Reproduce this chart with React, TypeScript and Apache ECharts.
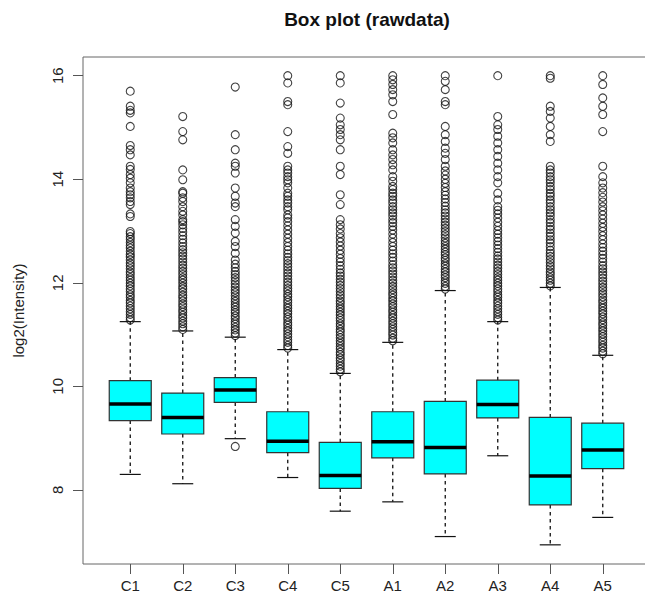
import React, { useEffect, useRef } from "react";
import * as echarts from "echarts";

const categories = ["C1", "C2", "C3", "C4", "C5", "A1", "A2", "A3", "A4", "A5"];
const lowerWhisker = [8.3, 8.12, 8.99, 8.24, 7.59, 7.77, 7.1, 8.66, 6.94, 7.47];
const q1 = [9.34, 9.08, 9.69, 8.72, 8.03, 8.62, 8.31, 9.39, 7.71, 8.41];
const medians = [9.66, 9.4, 9.93, 8.94, 8.28, 8.93, 8.82, 9.65, 8.27, 8.77];
const q3 = [10.11, 9.87, 10.17, 9.51, 8.92, 9.51, 9.71, 10.12, 9.4, 9.29];
const upperWhisker = [11.25, 11.07, 10.95, 10.71, 10.25, 10.85, 11.85, 11.25, 11.91, 10.6];
const yTicks = [8, 10, 12, 14, 16];

const outliersC1 = [11.28, 11.33, 11.39, 11.44, 11.5, 11.55, 11.61, 11.66, 11.72, 11.77, 11.83, 11.88, 11.94, 11.99, 12.05, 12.1, 12.16, 12.21, 12.27, 12.33, 12.38, 12.44, 12.5, 12.55, 12.61, 12.67, 12.72, 12.78, 12.84, 12.89, 12.95, 12.99, 13.28, 13.33, 13.51, 13.57, 13.64, 13.7, 13.76, 13.83, 13.93, 14.02, 14.09, 14.19, 14.25, 14.47, 14.57, 14.65, 15.02, 15.28, 15.33, 15.41, 15.7];
const outliersC2 = [11.1, 11.15, 11.21, 11.26, 11.32, 11.37, 11.43, 11.48, 11.54, 11.59, 11.65, 11.71, 11.76, 11.82, 11.88, 11.93, 11.99, 12.05, 12.1, 12.16, 12.22, 12.28, 12.34, 12.4, 12.46, 12.52, 12.58, 12.64, 12.7, 12.77, 12.84, 12.91, 12.98, 13.05, 13.12, 13.18, 13.22, 13.31, 13.38, 13.47, 13.57, 13.64, 13.73, 13.76, 13.99, 14.18, 14.76, 14.92, 15.21];
const outliersC3 = [8.84, 10.98, 11.03, 11.09, 11.14, 11.2, 11.25, 11.31, 11.36, 11.42, 11.47, 11.53, 11.58, 11.64, 11.69, 11.75, 11.81, 11.86, 11.92, 11.98, 12.04, 12.1, 12.16, 12.22, 12.29, 12.36, 12.44, 12.57, 12.7, 12.8, 12.96, 13.09, 13.22, 13.47, 13.54, 13.67, 13.83, 14.12, 14.25, 14.31, 14.57, 14.86, 15.78];
const outliersC4 = [10.74, 10.79, 10.85, 10.9, 10.96, 11.01, 11.07, 11.12, 11.18, 11.23, 11.29, 11.34, 11.4, 11.45, 11.51, 11.56, 11.62, 11.67, 11.73, 11.78, 11.84, 11.89, 11.95, 12.01, 12.07, 12.13, 12.19, 12.25, 12.31, 12.37, 12.43, 12.49, 12.56, 12.63, 12.7, 12.78, 12.86, 12.94, 13.02, 13.1, 13.18, 13.25, 13.31, 13.41, 13.47, 13.54, 13.6, 13.67, 13.73, 13.83, 13.93, 13.99, 14.05, 14.12, 14.18, 14.25, 14.5, 14.63, 14.92, 15.44, 15.5, 15.86, 16.0];
const outliersC5 = [10.28, 10.33, 10.39, 10.44, 10.5, 10.55, 10.61, 10.66, 10.72, 10.77, 10.83, 10.88, 10.94, 10.99, 11.05, 11.1, 11.16, 11.21, 11.27, 11.32, 11.38, 11.43, 11.49, 11.54, 11.6, 11.65, 11.71, 11.77, 11.83, 11.89, 11.95, 12.01, 12.07, 12.13, 12.19, 12.26, 12.33, 12.4, 12.47, 12.55, 12.63, 12.71, 12.79, 12.87, 12.95, 13.04, 13.12, 13.22, 13.51, 13.7, 14.09, 14.25, 14.57, 14.76, 14.86, 14.96, 15.05, 15.18, 15.47, 15.86, 16.0];
const outliersA1 = [10.88, 10.93, 10.99, 11.04, 11.1, 11.15, 11.21, 11.26, 11.32, 11.37, 11.43, 11.48, 11.54, 11.59, 11.65, 11.7, 11.76, 11.81, 11.87, 11.93, 11.99, 12.05, 12.11, 12.17, 12.23, 12.29, 12.35, 12.42, 12.49, 12.56, 12.63, 12.7, 12.78, 12.86, 12.94, 13.02, 13.09, 13.16, 13.22, 13.29, 13.35, 13.41, 13.47, 13.54, 13.6, 13.67, 13.73, 13.8, 13.86, 13.96, 14.05, 14.18, 14.28, 14.38, 14.47, 14.57, 14.7, 14.8, 14.89, 15.25, 15.5, 15.63, 15.73, 15.83, 15.92, 16.0];
const outliersA2 = [11.88, 11.93, 11.99, 12.04, 12.1, 12.15, 12.21, 12.26, 12.32, 12.37, 12.43, 12.48, 12.54, 12.59, 12.65, 12.7, 12.76, 12.81, 12.87, 12.93, 12.99, 13.05, 13.11, 13.17, 13.23, 13.29, 13.35, 13.41, 13.48, 13.55, 13.62, 13.69, 13.76, 13.84, 13.92, 14.0, 14.08, 14.16, 14.25, 14.38, 14.5, 14.6, 14.73, 14.86, 15.02, 15.44, 15.5, 15.73, 15.89, 16.0];
const outliersA3 = [11.28, 11.33, 11.39, 11.44, 11.5, 11.55, 11.61, 11.66, 11.72, 11.77, 11.83, 11.88, 11.94, 11.99, 12.05, 12.1, 12.16, 12.22, 12.28, 12.34, 12.4, 12.46, 12.52, 12.59, 12.66, 12.73, 12.8, 12.87, 12.94, 13.01, 13.09, 13.17, 13.25, 13.33, 13.4, 13.47, 13.6, 13.73, 13.93, 14.05, 14.18, 14.31, 14.44, 14.57, 14.7, 14.83, 14.96, 15.05, 15.21, 16.0];
const outliersA4 = [11.94, 11.99, 12.05, 12.1, 12.16, 12.21, 12.27, 12.33, 12.39, 12.45, 12.51, 12.57, 12.63, 12.7, 12.77, 12.83, 12.9, 12.96, 13.03, 13.09, 13.16, 13.22, 13.29, 13.35, 13.41, 13.47, 13.54, 13.6, 13.67, 13.73, 13.8, 13.86, 13.93, 13.99, 14.05, 14.12, 14.18, 14.25, 14.73, 14.86, 15.02, 15.18, 15.31, 15.41, 15.95, 16.0];
const outliersA5 = [10.63, 10.68, 10.74, 10.79, 10.85, 10.9, 10.96, 11.01, 11.07, 11.12, 11.18, 11.23, 11.29, 11.34, 11.4, 11.45, 11.51, 11.56, 11.62, 11.67, 11.73, 11.79, 11.85, 11.91, 11.97, 12.03, 12.09, 12.15, 12.21, 12.27, 12.33, 12.4, 12.47, 12.54, 12.61, 12.68, 12.75, 12.83, 12.91, 12.99, 13.07, 13.15, 13.23, 13.31, 13.39, 13.47, 13.56, 13.65, 13.74, 13.83, 13.93, 14.05, 14.25, 14.92, 15.25, 15.41, 15.57, 15.83, 16.0];

const outliers = [outliersC1, outliersC2, outliersC3, outliersC4, outliersC5, outliersA1, outliersA2, outliersA3, outliersA4, outliersA5];

const FONT = "'Liberation Sans', Arial, sans-serif";

export default function App() {
  const ref = useRef<HTMLDivElement>(null);
  useEffect(() => {
    if (!ref.current) return;
    const chart = echarts.init(ref.current, null, { renderer: "svg" });
    const positions = categories.map((_, i) => i + 1);
    const boxData = categories.map((_, i) => [i + 1, lowerWhisker[i], q1[i], medians[i], q3[i], upperWhisker[i]]);
    const outlierData: number[][] = [];
    outliers.forEach((arr, i) => arr.forEach((v) => outlierData.push([i + 1, v])));

    chart.setOption({
      animation: false,
      backgroundColor: "#fff",
      textStyle: { fontFamily: FONT },
      title: {
        text: "Box plot (rawdata)",
        left: 367,
        top: 10,
        padding: 0,
        textAlign: "center",
        textStyle: { fontSize: 19, fontWeight: "bold", color: "#111", fontFamily: FONT },
      },
      grid: {
        left: 83,
        top: 57,
        right: -5,
        bottom: 41,
        show: true,
        borderColor: "#666",
        borderWidth: 1,
        backgroundColor: "transparent",
        outerBoundsMode: "none",
      },
      xAxis: {
        type: "value",
        min: 0.1,
        max: 10.9,
        axisLine: { show: false },
        splitLine: { show: false },
        axisTick: { show: true, customValues: positions, length: 10, lineStyle: { color: "#555" } },
        axisLabel: {
          customValues: positions,
          formatter: (v: number) => categories[Math.round(v) - 1] ?? "",
          fontSize: 15,
          color: "#222",
          margin: 14,
          fontFamily: FONT,
        },
      },
      yAxis: {
        type: "value",
        min: 6.57,
        max: 16.36,
        axisLine: { show: false },
        splitLine: { show: false },
        axisTick: { show: true, customValues: yTicks, length: 10, lineStyle: { color: "#555" } },
        axisLabel: { customValues: yTicks, rotate: 90, fontSize: 15, margin: 18, color: "#222", fontFamily: FONT },
        name: "log2(Intensity)",
        nameLocation: "middle",
        nameRotate: 90,
        nameGap: 57,
        nameTextStyle: { fontSize: 15, color: "#222", fontFamily: FONT },
      },
      series: [
        {
          type: "custom",
          data: boxData,
          encode: { x: 0, y: [1, 2, 3, 4, 5] },
          renderItem: (params: any, api: any) => {
            const x = api.value(0);
            const lo = api.coord([x, api.value(1)]);
            const b1 = api.coord([x, api.value(2)]);
            const md = api.coord([x, api.value(3)]);
            const b3 = api.coord([x, api.value(4)]);
            const hi = api.coord([x, api.value(5)]);
            const w = api.size([0.8, 0])[0];
            const cx = lo[0];
            const half = w / 2;
            const cap = w / 4;
            const dash = { stroke: "#111", lineWidth: 1.3, lineDash: [3.5, 3.5] };
            const solid = { stroke: "#111", lineWidth: 1.2 };
            return {
              type: "group",
              children: [
                { type: "line", shape: { x1: cx, y1: b3[1], x2: cx, y2: hi[1] }, style: dash },
                { type: "line", shape: { x1: cx, y1: b1[1], x2: cx, y2: lo[1] }, style: dash },
                { type: "line", shape: { x1: cx - cap, y1: hi[1], x2: cx + cap, y2: hi[1] }, style: solid },
                { type: "line", shape: { x1: cx - cap, y1: lo[1], x2: cx + cap, y2: lo[1] }, style: solid },
                {
                  type: "rect",
                  shape: { x: cx - half, y: b3[1], width: w, height: b1[1] - b3[1] },
                  style: { fill: "#00ffff", stroke: "#333", lineWidth: 1.2 },
                },
                { type: "line", shape: { x1: cx - half, y1: md[1], x2: cx + half, y2: md[1] }, style: { stroke: "#000", lineWidth: 3.5 } },
              ],
            };
          },
          z: 2,
        },
        {
          type: "scatter",
          data: outlierData,
          symbol: "circle",
          symbolSize: 8,
          itemStyle: { color: "rgba(0,0,0,0)", borderColor: "#111", borderWidth: 1.1 },
          z: 3,
        },
      ],
    });
    return () => chart.dispose();
  }, []);
  return <div ref={ref} style={{ position: "fixed", left: 0, top: 0, width: 645, height: 605, background: "#fff" }} />;
}
